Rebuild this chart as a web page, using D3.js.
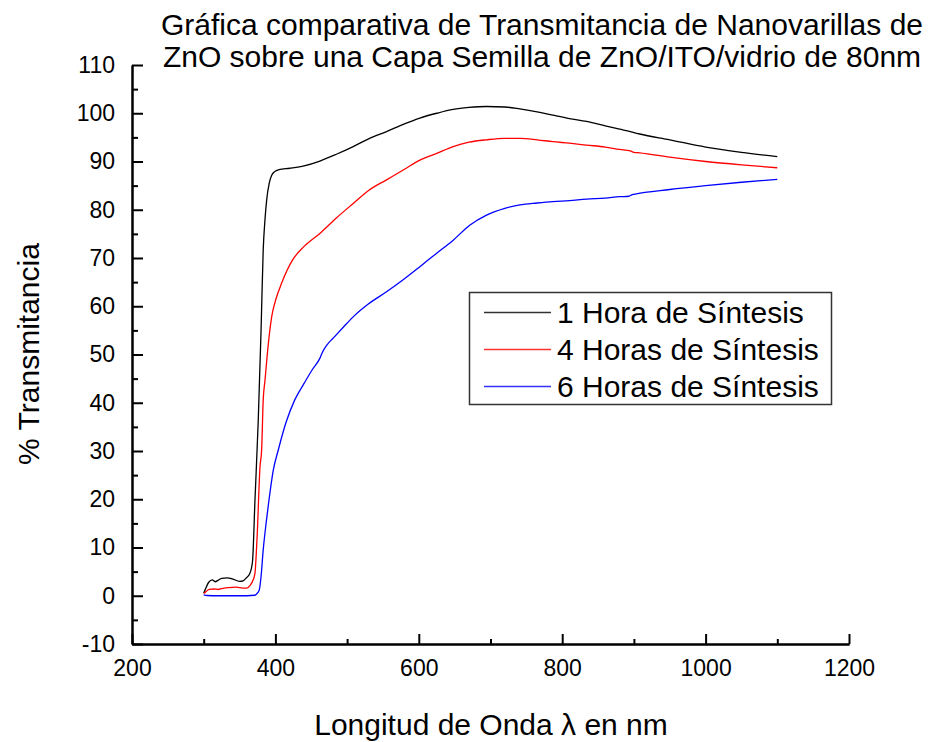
<!DOCTYPE html>
<html>
<head>
<meta charset="utf-8">
<script src="https://cdn.jsdelivr.net/npm/d3@7"></script>
<style>
  body { margin: 0; background: #fff; }
  svg text { font-family: "Liberation Sans", Arial, Helvetica, sans-serif; fill: #000; }
</style>
</head>
<body>
<svg id="chart" width="930" height="742"></svg>
<script>
// curve 1: 1 hora de síntesis
const wl1 = [300,303,307,312,316,320,325,333,340,350,355,360,364,368,371.5,376,380,383,385.5,387.8,391.4,395,399,405,420,440,462,485,508.5,530,555,580,601.5,625,648,670,694.5,720,741,765,787,810,834,860,880,895,900,908,950,1000,1050,1100];
const t1  = [0.5,1.6,2.8,3.3,2.9,3.2,3.6,3.7,3.5,3.0,3.1,3.8,4.5,7.0,19.8,36,55,71.7,78,82,85.5,87.2,87.9,88.3,88.6,89.1,90.1,91.5,93.1,94.7,96.2,97.8,99.0,100.0,100.8,101.2,101.4,101.3,100.9,100.3,99.6,98.9,98.3,97.4,96.7,96.2,96.0,95.7,94.5,93.0,91.9,91.0];
// curve 2: 4 horas
const wl4 = [300,302,305,308,315,320,325,335,345,355,360,365,369,371.5,374.7,378.5,380.8,383,385.4,390,394.8,401,408.7,424,440,462,485,508.5,530,555,580,601.5,625,648,670,694.5,720,741,765,787,810,834,860,880,895,900,908,950,1000,1050,1100];
const t4  = [0.5,0.7,1.1,1.3,1.4,1.3,1.5,1.7,1.8,1.6,1.6,2.2,3.3,4.7,12.9,26.7,30.2,40.6,44.5,52,57.8,61.6,64.8,69.6,72.4,75.1,78.3,81.3,84.0,86.2,88.4,90.3,91.7,93.1,94.0,94.5,94.8,94.8,94.5,94.1,93.8,93.4,93.0,92.5,92.2,91.9,91.8,90.9,90.0,89.3,88.7];
// curve 3: 6 horas
const wl6 = [300,305,320,340,360,371.5,374,377.5,380,383,387,391,397,404,415,427,440,452,462,466,472,480.6,495,508.5,530,555,580,601.5,625,648,671,694.5,720,741,765,787,810,834,860,880,893,897,900,950,1000,1050,1100];
const t6  = [0.2,0.05,0,0,0,0.1,0.4,1.2,4,9.5,15,19.8,26,30.2,36,40.6,44,47,49.2,50.6,52,53.4,55.7,57.8,60.5,63,65.7,68.2,71,73.7,76.8,78.9,80.3,81.0,81.4,81.7,81.9,82.2,82.4,82.7,82.8,83.1,83.2,84.2,85.0,85.7,86.3];

const seriesNames = ["1 Hora de Síntesis", "4 Horas de Síntesis", "6 Horas de Síntesis"];
const seriesColors = ["#000000", "#ff0000", "#0000ff"];
const xTicks = [200,400,600,800,1000,1200];
const xMinor = [300,500,700,900,1100];
const yTicks = [-10,0,10,20,30,40,50,60,70,80,90,100,110];
const yMinor = [-5,5,15,25,35,45,55,65,75,85,95,105];

const svg = d3.select("#chart");
const x = d3.scaleLinear().domain([200,1200]).range([132,849]);
const y = d3.scaleLinear().domain([-10,110]).range([644,65]);

// axes, ticks inward
const styleAxis = g => {
  g.select(".domain").attr("stroke","#000").attr("stroke-width",2);
  g.selectAll(".tick line").attr("stroke","#000").attr("stroke-width",2);
  g.selectAll(".tick text").attr("font-size",23).attr("font-family",'"Liberation Sans", Arial, sans-serif').attr("fill","#000");
};
const plain = d => String(d);   // hyphen, not unicode minus

svg.append("g").attr("transform","translate(0,644)")
  .call(d3.axisBottom(x).tickValues(xMinor).tickSize(-5).tickSizeOuter(0).tickFormat(""))
  .call(styleAxis);
svg.append("g").attr("transform","translate(0,644)")
  .call(d3.axisBottom(x).tickValues(xTicks).tickSize(-10).tickSizeOuter(0).tickPadding(16).tickFormat(plain))
  .call(styleAxis);
svg.append("g").attr("transform","translate(132,0)")
  .call(d3.axisLeft(y).tickValues(yMinor).tickSize(-6).tickSizeOuter(0).tickFormat(""))
  .call(styleAxis);
svg.append("g").attr("transform","translate(132,0)")
  .call(d3.axisLeft(y).tickValues(yTicks).tickSize(-11).tickSizeOuter(0).tickPadding(17).tickFormat(plain))
  .call(styleAxis);

// curves
const line = d3.line().x(d => x(d[0])).y(d => y(d[1])).curve(d3.curveMonotoneX);
const series = [d3.zip(wl1,t1), d3.zip(wl4,t4), d3.zip(wl6,t6)];
series.forEach((s,i) => {
  svg.append("path").datum(s).attr("d",line)
    .attr("fill","none").attr("stroke",seriesColors[i]).attr("stroke-width",1.3);
});

// legend
const lg = svg.append("g");
lg.append("rect").attr("x",469.5).attr("y",292.5).attr("width",362).attr("height",112)
  .attr("fill","#fff").attr("stroke","#333").attr("stroke-width",1.5);
seriesNames.forEach((n,i) => {
  const ry = 312.5 + i*37;
  lg.append("line").attr("x1",484).attr("x2",551).attr("y1",ry).attr("y2",ry)
    .attr("stroke",seriesColors[i]).attr("stroke-width",1.3).attr("opacity",0.8);
  lg.append("text").attr("x",557).attr("y",ry+10.5).attr("font-size",30).text(n);
});

// titles
svg.append("text").attr("x",542).attr("y",35).attr("text-anchor","middle").attr("font-size",30)
  .text("Gráfica comparativa de Transmitancia de Nanovarillas de");
svg.append("text").attr("x",542).attr("y",67).attr("text-anchor","middle").attr("font-size",30)
  .text("ZnO sobre una Capa Semilla de ZnO/ITO/vidrio de 80nm");
svg.append("text").attr("x",491).attr("y",735).attr("text-anchor","middle").attr("font-size",30)
  .text("Longitud de Onda λ en nm");
svg.append("text").attr("transform","translate(39,354) rotate(-90)").attr("text-anchor","middle").attr("font-size",30)
  .text("% Transmitancia");
</script>
</body>
</html>
